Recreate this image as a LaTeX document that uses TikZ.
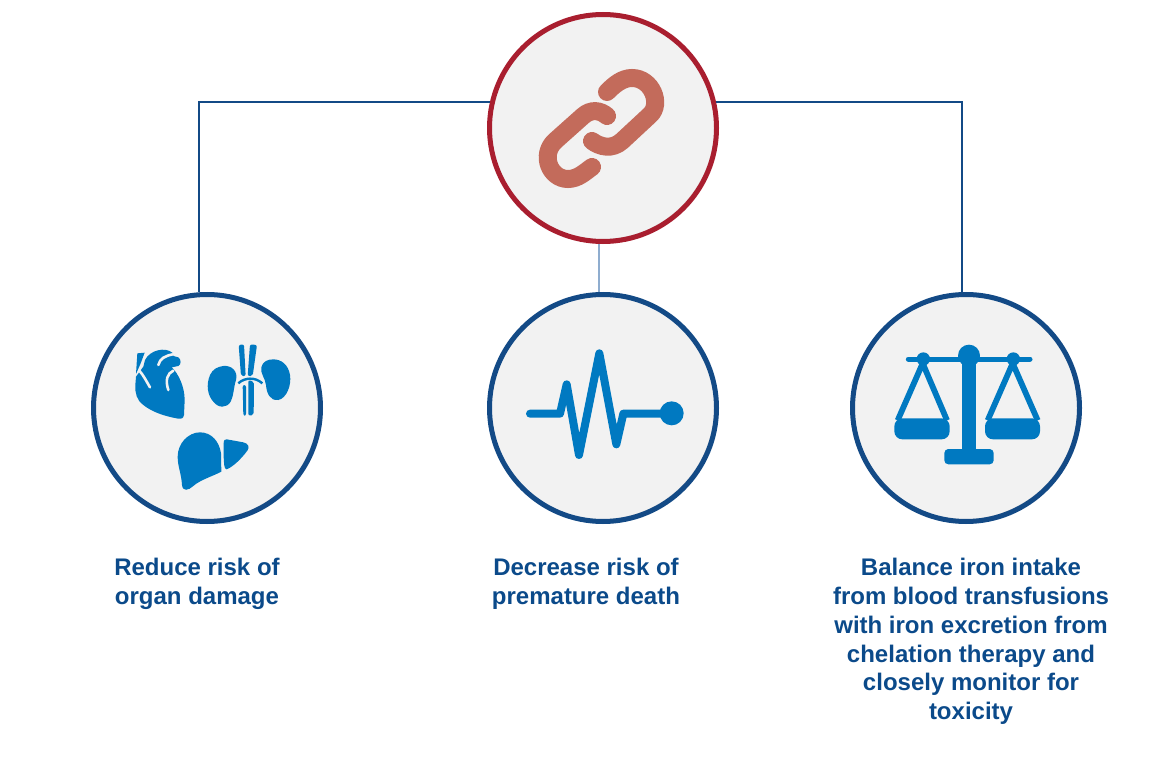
\documentclass[tikz,border=0pt]{standalone}
\usepackage{fontspec}
\setmainfont{Liberation Sans}
\definecolor{ringblue}{HTML}{134A86}
\definecolor{ringred}{HTML}{A91E2F}
\definecolor{iconblue}{HTML}{0079C1}
\definecolor{chainred}{HTML}{C36B5B}
\definecolor{textblue}{HTML}{0B4A8A}
\definecolor{discgrey}{HTML}{F2F2F2}
\definecolor{paleline}{HTML}{8FADCF}
\tikzset{
	disc/.style={circle,draw=ringblue,line width=2.5pt,minimum size=113.5pt,inner sep=0pt},
	caption/.style={font=\fontsize{12}{14.4}\selectfont\bfseries,text=textblue,align=center,inner sep=0pt,anchor=north},
	wire/.style={draw=ringblue,line width=1pt},
	gap/.style={discgrey,line width=1.3pt,line cap=round}
}
\begin{document}
\begin{tikzpicture}[x=0.5pt,y=-0.5pt]
	\useasboundingbox (0,0) rectangle (1166,775);
	% soft edge under the discs
	\foreach \cx/\cy in {603/128,207/408,603/408,966/408} {
		\fill [white] (\cx,\cy) circle (114);
		\fill [black!15] (\cx+1,\cy+1) circle (113);
		\fill [discgrey] (\cx-1,\cy-1) circle (112);
	}
	\node [disc,draw=ringred] (link) at (603,128) {};
	\node [disc] (organ) at (207,408) {};
	\node [disc] (death) at (603,408) {};
	\node [disc] (balance) at (966,408) {};
	\draw [wire] (link.167.4) -| (organ.94);
	\draw [wire] (link.13.3) -| (balance.92.75);
	\draw [draw=paleline,line width=1pt] (death.92.75) -- (death.92.75 |- link.south);
	% chain
	\draw [chainred,line width=9pt,line cap=round] (607,116) .. controls (600,110) and (591,109) .. (583,116) -- (555,141) .. controls (540,155) and (550,179) .. (568,179) .. controls (578,179) and (585,172) .. (592,167);
	\draw [chainred,line width=9pt,line cap=round] (607,92) .. controls (614,85) and (622,78) .. (632,78) .. controls (652,78) and (662,104) .. (650,115) -- (622,141) .. controls (612,150) and (600,147) .. (592,141);
	% heart, kidneys, liver
	\begin{scope}[shift={(110,330)},scale=1/3]
		\fill [iconblue] (105,90) .. controls (120,60) and (165,50) .. (187,68) -- (190,78) -- (205,82) .. controls (214,88) and (214,104) .. (205,108) -- (185,112) .. controls (205,130) and (224,170) .. (224,210) -- (222,255) .. controls (220,265) and (215,267) .. (205,266) .. controls (160,258) and (125,245) .. (100,225) .. controls (80,210) and (75,190) .. (76,165) -- (78,140) -- (100,110) -- cycle;
		\fill [iconblue] (82,70) -- (104,68) -- (92,100) -- (78,132) -- cycle;
		\draw [gap] (145,105) .. controls (150,85) and (165,78) .. (188,73);
		\draw [gap] (175,180) .. controls (165,150) and (172,130) .. (190,122);
		\draw [gap] (88,122) .. controls (100,135) and (110,155) .. (120,172);
		\fill [iconblue] (340,108) .. controls (365,105) and (385,125) .. (378,150) .. controls (370,175) and (372,195) .. (362,215) .. controls (350,235) and (325,235) .. (310,215) .. controls (292,195) and (288,165) .. (300,135) .. controls (308,118) and (322,110) .. (340,108) -- cycle;
		\fill [iconblue] (490,88) .. controls (515,88) and (535,105) .. (540,135) .. controls (545,165) and (530,205) .. (505,210) .. controls (480,213) and (470,190) .. (468,165) .. controls (466,145) and (450,130) .. (454,112) .. controls (458,95) and (472,88) .. (490,88) -- cycle;
		\fill [iconblue,rounded corners=1pt] (386,45) -- (402,43) -- (407,138) -- (393,138) -- cycle;
		\fill [iconblue,rounded corners=1pt] (420,43) -- (441,45) -- (428,138) -- (413,138) -- cycle;
		\fill [iconblue,rounded corners=1pt] (398,165) -- (408,165) -- (408,257) -- (400,257) -- cycle;
		\fill [iconblue,rounded corners=1pt] (415,150) -- (432,155) -- (431,255) -- (415,257) -- cycle;
		\draw [iconblue,line width=1.2pt] (385,160) .. controls (395,150) and (410,146) .. (420,146) .. controls (435,146) and (445,150) .. (457,160);
		\fill [iconblue] (270,307) .. controls (305,307) and (328,335) .. (333,370) -- (334,425) .. controls (305,440) and (270,450) .. (250,468) .. controls (235,482) and (218,485) .. (216,465) .. controls (214,430) and (203,410) .. (203,380) .. controls (203,340) and (235,307) .. (270,307) -- cycle;
		\fill [iconblue] (350,328) -- (400,337) .. controls (415,340) and (420,352) .. (412,362) .. controls (395,385) and (370,410) .. (350,418) .. controls (342,418) and (342,400) .. (341,380) -- (341,340) .. controls (341,330) and (345,327) .. (350,328) -- cycle;
	\end{scope}
	% pulse
	\begin{scope}[shift={(515,335)},scale=1/3]
		\draw [iconblue,line width=4pt,line cap=round,line join=round] (45,236) -- (135,236) -- (155,148) -- (192,360) -- (253,55) -- (304,328) -- (325,236) -- (440,236);
		\fill [iconblue] (470,235) circle (36);
	\end{scope}
	% scales
	\begin{scope}[shift={(885,335)},scale=1/3]
		\draw [iconblue,line width=2.5pt,line cap=round] (70,72) -- (435,72);
		\fill [iconblue] (252,62) circle (33);
		\fill [iconblue] (115,72) circle (20);
		\fill [iconblue] (385,72) circle (20);
		\fill [iconblue] (232,62) rectangle (272,345);
		\fill [iconblue,rounded corners=2pt] (178,342) rectangle (326,388);
		\fill [iconblue,rounded corners=4pt] (28,250) rectangle (194,313);
		\fill [iconblue,rounded corners=4pt] (300,250) rectangle (465,313);
		\draw [iconblue,line width=2.9pt,miter limit=1] (38,256) -- (113,85) -- (186,256);
		\draw [iconblue,line width=2.9pt,miter limit=1] (308,256) -- (383,85) -- (458,256);
	\end{scope}
	\node [caption] (organtext) at (197,558) {Reduce risk of\\organ damage};
	\node [caption] (deathtext) at (586,558) {Decrease risk of\\premature death};
	\node [caption] (balancetext) at (971,558) {Balance iron intake\\from blood transfusions\\with iron excretion from\\chelation therapy and\\closely monitor for\\toxicity};
\end{tikzpicture}
\end{document}
